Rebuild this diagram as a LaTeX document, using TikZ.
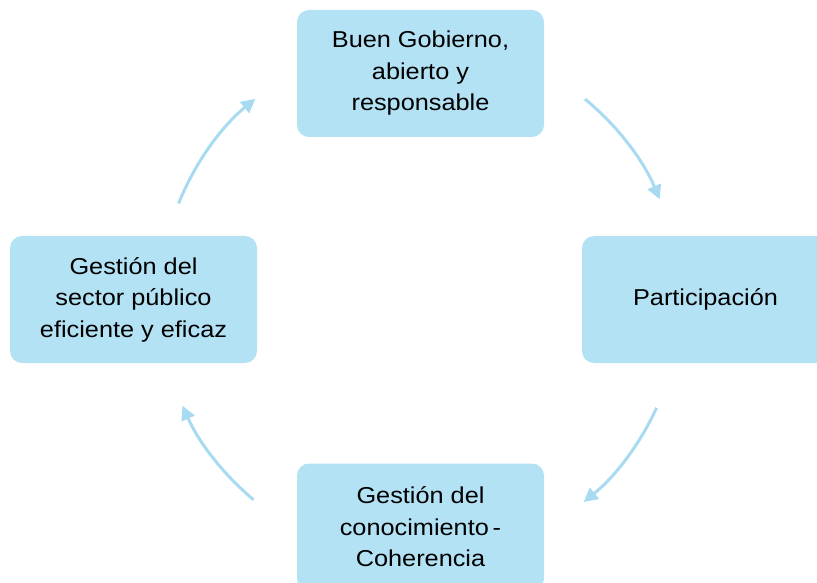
\documentclass[tikz,border=0pt]{standalone}
\usepackage{fontspec}
\setmainfont{Liberation Sans}[FakeStretch=1.1]
\usetikzlibrary{arrows.meta,calc}
\definecolor{boxblue}{HTML}{B3E2F5}
\definecolor{arrblue}{HTML}{A8DBF2}
\begin{document}
\begin{tikzpicture}[x=1pt,y=1pt,
  box/.style={fill=boxblue, rounded corners=12pt, minimum width=247pt, minimum height=127pt,
    inner sep=0pt, align=center, font=\fontsize{23}{31.5}\selectfont, text=black},
  arr/.style={draw=arrblue, line width=3pt, -{Triangle[length=14pt,width=14pt]}}]
\useasboundingbox (0,0) rectangle (817,582);
\coordinate (O) at (420,282);
\node[box] (top) at (420.5,508.5) {Buen Gobierno,\\abierto y\\responsable};
\node[box] (left) at (133.5,282.5) {Gestión del\\sector público\\eficiente y eficaz};
\node[box] (right) at (705.5,282.5) {Participación};
\node[box] (bot) at (420.5,55) {Gestión del\\conocimiento\,-\\Coherencia};
\coordinate (a1) at ($(O)+(50.6:260)$);
\coordinate (a2) at ($(O)+(-24.5:260)$);
\coordinate (a3) at ($(O)+(230.2:260)$);
\coordinate (a4) at ($(O)+(158.2:260)$);
\draw[arr] (a1) arc[start angle=50.6, end angle=22.8, radius=260];
\draw[arr] (a2) arc[start angle=-24.5, end angle=-51, radius=260];
\draw[arr] (a3) arc[start angle=230.2, end angle=204, radius=260];
\draw[arr] (a4) arc[start angle=158.2, end angle=129.3, radius=260];
\end{tikzpicture}
\end{document}
